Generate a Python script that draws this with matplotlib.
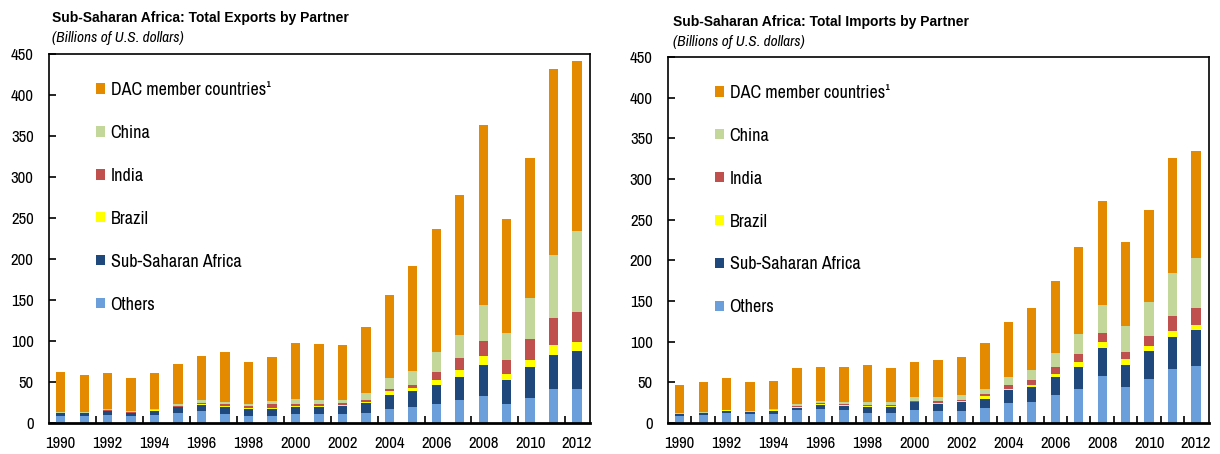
import matplotlib
matplotlib.use("Agg")
import matplotlib.pyplot as plt
import numpy as np

plt.rcParams['font.family'] = ['Arial Narrow', 'Liberation Sans Narrow', 'Archivo Narrow',
                               'Roboto Condensed', 'PT Sans Narrow', 'Liberation Sans', 'DejaVu Sans']

years = list(range(1990, 2013))
series_names = ["Others", "Sub-Saharan Africa", "Brazil", "India", "China", "DAC member countries\u00b9"]
colors = ["#6A9FDC", "#1F497D", "#FFFF00", "#C0504D", "#C4D79B", "#E38A00"]

# Exports (billions of U.S. dollars)
exp_others = [8, 8, 10, 8, 9.5, 12.6, 14.3, 11, 8, 9, 11, 11, 11, 12, 17.5, 19, 23, 28, 33, 23, 30, 41, 41]
exp_ssa = [4, 4, 4.7, 4, 5.5, 6.4, 7.7, 8.6, 9, 8, 8.6, 8.6, 10, 12.5, 17.2, 20, 23.5, 28, 37.6, 30, 38.6, 42, 47]
exp_brazil = [0.3, 0.3, 0.3, 0.5, 0.5, 1, 1.5, 1.4, 1.5, 1.5, 1.4, 1.4, 1.5, 1.5, 4.1, 4, 6.1, 9, 11.4, 6.6, 8.4, 12, 11]
exp_india = [0.3, 0.3, 0.5, 0.5, 0.5, 1, 1.5, 2.5, 2.5, 5.2, 2.7, 2.7, 2, 2.6, 2.8, 3.5, 9.8, 14, 17.6, 17.1, 25.9, 32.8, 36]
exp_china = [0.4, 0.4, 1, 2, 1.5, 1.9, 2.8, 2.2, 2.3, 3.2, 5.3, 4.9, 3.7, 7.7, 13.4, 17.2, 24.1, 28, 44.9, 33.3, 49.1, 76.7, 99]
exp_dac = [49, 46, 44, 40, 43, 48.6, 54.2, 60.3, 51.7, 53.6, 68, 67.4, 67.3, 80.7, 101, 128.3, 149.5, 171, 218.5, 138.5, 171, 227, 208]

# Imports (billions of U.S. dollars)
imp_others = [8, 9.8, 12, 11, 11.4, 15.5, 16.7, 15.5, 11.8, 11.8, 15.5, 15, 14.3, 18, 24, 25.7, 35, 42.4, 58, 44, 53.9, 66, 70.6]
imp_ssa = [2.6, 2, 2.3, 2, 2.9, 3.5, 5.3, 5.3, 7.8, 7.8, 10.2, 8.7, 11, 12, 16, 18.3, 21, 27, 34.7, 27.8, 35.1, 40, 43.3]
imp_brazil = [0.4, 0.4, 1.2, 0.5, 1.2, 1, 1, 1.2, 1.4, 1.4, 0.6, 1.3, 1.4, 2.7, 2.4, 3.3, 4.8, 6.1, 7.3, 6.6, 5.3, 6.7, 6.1]
imp_india = [0.3, 0.3, 0.5, 0.5, 0.5, 1, 1, 1.3, 1.5, 1.3, 1.2, 1.5, 1.5, 2.8, 4.1, 5.3, 7.8, 9.5, 11, 9.4, 12.7, 18.3, 21.6]
imp_china = [0.7, 1, 0.5, 1, 1.5, 2.7, 2.5, 2, 2.8, 3, 3.9, 4.9, 6.1, 6.9, 9.5, 12.7, 17.1, 24.8, 34, 31, 42, 53.5, 61.4]
imp_dac = [35.3, 36.5, 39, 35.2, 34.5, 43.6, 42.5, 43.7, 46.5, 42, 43.3, 45.6, 46.7, 55.6, 67.7, 76.3, 89, 107.2, 128, 103.2, 113, 141.5, 132]

exports = [exp_others, exp_ssa, exp_brazil, exp_india, exp_china, exp_dac]
imports = [imp_others, imp_ssa, imp_brazil, imp_india, imp_china, imp_dac]

W, H = 1220, 454
fig = plt.figure(figsize=(W / 100, H / 100), dpi=100)
ax1 = fig.add_axes([49 / W, 1 - 423 / H, 541 / W, (423 - 54) / H])
ax2 = fig.add_axes([668 / W, 1 - 423 / H, 541 / W, (423 - 57) / H])


def draw(ax, data, tick_step):
    x = np.array(years)
    base = np.zeros(len(years))
    handles = []
    for vals, c, name in zip(data, colors, series_names):
        v = np.array(vals, dtype=float)
        h = ax.bar(x, v, width=0.4, bottom=base, color=c, edgecolor='none', label=name)
        handles.append(h)
        base = base + v
    ax.set_xlim(1989.5, 2012.55)
    ax.set_ylim(0, 450)
    ax.set_yticks(np.arange(0, 451, 50))
    ax.set_xticks(np.arange(1990, 2013, 2))
    ax.set_xticks(np.arange(1990.5 if tick_step == 1 else 1991.5, 2012.5, tick_step), minor=True)
    ax.tick_params(axis='x', which='major', length=0, pad=9, labelsize=12)
    ax.tick_params(axis='x', which='minor', direction='in', length=5, width=1.2)
    ax.tick_params(axis='y', direction='in', length=5, width=1.2, pad=11, labelsize=12)
    for s in ax.spines.values():
        s.set_linewidth(1.2)
    ax.spines['bottom'].set_linewidth(2)
    leg = ax.legend(handles[::-1], series_names[::-1], loc='upper left',
                    bbox_to_anchor=(0.087, 0.924), frameon=False, fontsize=13,
                    handlelength=0.5, handleheight=0.5, handletextpad=0.3,
                    labelspacing=1.49, borderpad=0, borderaxespad=0)
    return leg


draw(ax1, exports, 2)
draw(ax2, imports, 1)

title_font = ['Liberation Sans', 'DejaVu Sans']
fig.text(52 / W, 1 - 18 / H, "Sub-Saharan Africa: Total Exports by Partner",
         fontsize=10, fontweight='bold', family=title_font, ha='left', va='center')
fig.text(52 / W, 1 - 38 / H, "(Billions of U.S. dollars)",
         fontsize=11, fontstyle='italic', ha='left', va='center')
fig.text(673 / W, 1 - 22 / H, "Sub-Saharan Africa: Total Imports by Partner",
         fontsize=10, fontweight='bold', family=title_font, ha='left', va='center')
fig.text(673 / W, 1 - 42 / H, "(Billions of U.S. dollars)",
         fontsize=11, fontstyle='italic', ha='left', va='center')

fig.savefig("out.png", dpi=100)
